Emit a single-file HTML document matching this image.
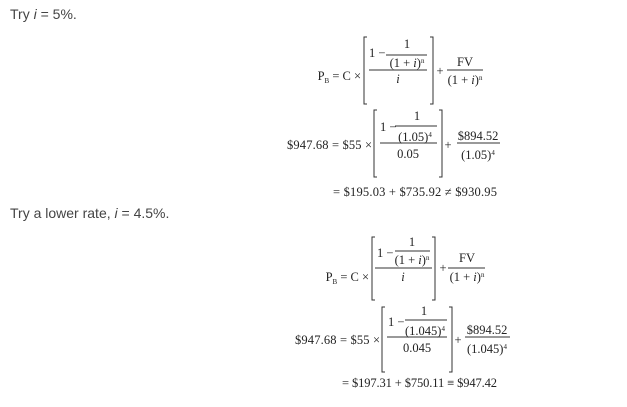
<!DOCTYPE html>
<html><head><meta charset="utf-8"><style>
html,body{margin:0;padding:0;background:#fff;width:627px;height:407px;overflow:hidden}
svg{display:block}
.t{font-family:"Liberation Sans",sans-serif;font-size:14px;fill:#444}
.m{font-family:"Liberation Serif",serif;font-size:12.5px;fill:#222}
.s{font-size:7px}
</style></head><body>
<svg width="627" height="407" viewBox="0 0 627 407">
<text class="t" x="10" y="19">Try <tspan font-style="italic">i</tspan> = 5%.</text>
<text class="t" x="10" y="218">Try a lower rate, <tspan font-style="italic">i</tspan> = 4.5%.</text>
<g stroke="#333" stroke-width="1" fill="none">
<path d="M367,37 H364 V104 H367"/><path d="M430,37 H433 V104 H430"/>
<line x1="386" y1="55" x2="427" y2="55"/><line x1="369" y1="70" x2="427" y2="70"/>
<line x1="447" y1="70" x2="483" y2="70"/>
<path d="M377,110 H374 V177 H377"/><path d="M439,110 H442 V177 H439"/>
<line x1="395" y1="126" x2="437" y2="126"/><line x1="380" y1="143" x2="437" y2="143"/>
<line x1="457" y1="143" x2="500" y2="143"/>
<path d="M375,237 H372 V300 H375"/><path d="M432,237 H435 V300 H432"/>
<line x1="395" y1="251" x2="430" y2="251"/><line x1="375" y1="268" x2="432" y2="268"/>
<line x1="448" y1="268" x2="485" y2="268"/>
<path d="M385,307 H382 V372 H385"/><path d="M449,307 H452 V372 H449"/>
<line x1="405" y1="320" x2="447" y2="320"/><line x1="387" y1="337" x2="447" y2="337"/>
<line x1="465" y1="337" x2="510" y2="337"/>
</g>
<g class="m">
<text x="361" y="80" text-anchor="end">P<tspan class="s" dy="3">B</tspan><tspan dy="-3"> = C ×</tspan></text>
<text x="369" y="57">1 −</text>
<text x="407" y="48" text-anchor="middle">1</text>
<text x="407" y="67" text-anchor="middle">(1 + <tspan font-style="italic">i</tspan>)<tspan class="s" dy="-4">n</tspan></text>
<text x="398" y="83" text-anchor="middle" font-style="italic">i</text>
<text x="440" y="75" text-anchor="middle">+</text>
<text x="465" y="66" text-anchor="middle">FV</text>
<text x="465" y="84" text-anchor="middle">(1 + <tspan font-style="italic">i</tspan>)<tspan class="s" dy="-4">n</tspan></text>

<text x="372" y="149" text-anchor="end" textLength="85">$947.68 = $55 ×</text>
<text x="380" y="131">1 −</text>
<text x="417" y="120" text-anchor="middle">1</text>
<text x="415" y="141" text-anchor="middle">(1.05)<tspan class="s" dy="-4">4</tspan></text>
<text x="408" y="158" text-anchor="middle">0.05</text>
<text x="448" y="149" text-anchor="middle">+</text>
<text x="478" y="140" text-anchor="middle">$894.52</text>
<text x="478" y="159" text-anchor="middle">(1.05)<tspan class="s" dy="-4">4</tspan></text>
<text x="333" y="196" textLength="164">= $195.03 + $735.92 ≠ $930.95</text>

<text x="369" y="281" text-anchor="end">P<tspan class="s" dy="3">B</tspan><tspan dy="-3"> = C ×</tspan></text>
<text x="377" y="257">1 −</text>
<text x="412" y="246" text-anchor="middle">1</text>
<text x="412" y="264" text-anchor="middle">(1 + <tspan font-style="italic">i</tspan>)<tspan class="s" dy="-4">n</tspan></text>
<text x="403" y="281" text-anchor="middle" font-style="italic">i</text>
<text x="443" y="272" text-anchor="middle">+</text>
<text x="467" y="262" text-anchor="middle">FV</text>
<text x="467" y="281" text-anchor="middle">(1 + <tspan font-style="italic">i</tspan>)<tspan class="s" dy="-4">n</tspan></text>

<text x="380" y="344" text-anchor="end" textLength="85">$947.68 = $55 ×</text>
<text x="388" y="326">1 −</text>
<text x="424" y="315" text-anchor="middle">1</text>
<text x="425" y="335" text-anchor="middle">(1.045)<tspan class="s" dy="-4">4</tspan></text>
<text x="417" y="352" text-anchor="middle">0.045</text>
<text x="458" y="344" text-anchor="middle">+</text>
<text x="487" y="334" text-anchor="middle">$894.52</text>
<text x="487" y="353" text-anchor="middle">(1.045)<tspan class="s" dy="-4">4</tspan></text>
<text x="342" y="387" textLength="155">= $197.31 + $750.11 ≡ $947.42</text>
</g>
</svg>
</body></html>
